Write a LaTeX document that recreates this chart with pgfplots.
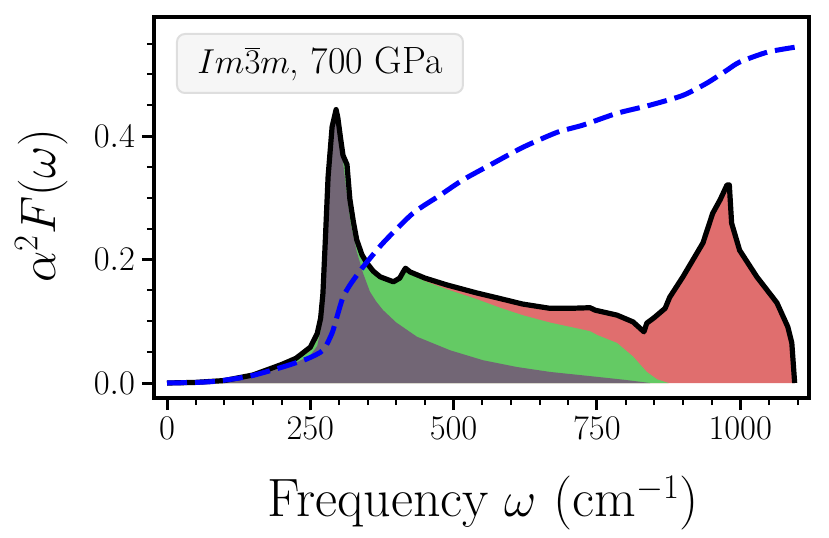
\documentclass[border=0pt]{standalone}
\usepackage{pgfplots}
\pgfplotsset{compat=1.18}
\definecolor{cpurple}{RGB}{114,102,117}
\definecolor{cgreen}{RGB}{100,202,100}
\definecolor{cred}{RGB}{224,110,110}
\definecolor{lgfill}{RGB}{246,246,246}
\definecolor{lgdraw}{RGB}{222,222,222}
\begin{document}
\begin{tikzpicture}
\begin{axis}[
  scale only axis,
  width=327.5pt, height=190.5pt,
  xmin=-22.7, xmax=1120,
  ymin=-0.0243, ymax=0.593,
  axis line style={line width=1.6pt},
  tick align=outside,
  xtick pos=bottom, ytick pos=left,
  xtick={0,250,500,750,1000},
  ytick={0,0.2,0.4},
  minor xtick={50,100,150,200,300,350,400,450,550,600,650,700,800,850,900,950,1050,1100},
  minor ytick={0.05,0.1,0.15,0.25,0.3,0.35,0.45,0.5,0.55},
  major tick length=6pt, minor tick length=3.5pt,
  every major tick/.append style={line width=1.5pt, black},
  every minor tick/.append style={line width=1pt, black},
  xticklabel style={/pgf/number format/1000 sep={}},
  yticklabel style={/pgf/number format/fixed, /pgf/number format/fixed zerofill, /pgf/number format/precision=1},
  ticklabel style={font=\fontsize{18}{21}\selectfont},
  xlabel={Frequency $\omega$ (cm$^{-1}$)},
  ylabel={$\alpha^2F(\omega)$},
  label style={font=\fontsize{27}{32}\selectfont},
  xlabel style={at={(axis description cs:0.503,-0.312)}, anchor=base},
  ylabel style={at={(axis description cs:-0.172,0.504)}, anchor=center},
  clip=true,
]
% total (red area)
\addplot[fill=cred, draw=none] coordinates {
(0,0) (50,0.001) (100,0.004) (150,0.013) (200,0.030) (225,0.040) (250,0.058) (262,0.080) (268,0.105) (272,0.145) (276,0.227) (281,0.334) (288,0.415) (295,0.443) (298,0.430) (303,0.395) (307,0.369) (314,0.354) (319,0.298) (325,0.262) (331,0.232) (340,0.208) (349,0.194) (360,0.181) (372,0.172) (395,0.164) (406,0.170) (412,0.180) (416,0.186) (424,0.180) (450,0.170) (488,0.159) (540,0.146) (576,0.138) (620,0.128) (668,0.121) (703,0.121) (738,0.122) (747,0.118) (785,0.110) (813,0.099) (832,0.083) (837,0.097) (850,0.106) (869,0.121) (877,0.139) (900,0.172) (935,0.227) (952,0.275) (965,0.297) (977,0.321) (981,0.321) (985,0.259) (999,0.215) (1029,0.172) (1064,0.130) (1083,0.091) (1090,0.065) (1095,0.0)
} \closedcycle;
% green
\addplot[fill=cgreen, draw=none] coordinates {
(0,0) (50,0.001) (100,0.004) (150,0.012) (200,0.028) (225,0.037) (250,0.052) (262,0.070) (268,0.095) (272,0.135) (276,0.215) (281,0.320) (288,0.405) (295,0.443) (298,0.430) (303,0.395) (307,0.369) (314,0.354) (319,0.298) (325,0.262) (331,0.232) (340,0.208) (349,0.194) (360,0.181) (372,0.172) (395,0.164) (406,0.170) (412,0.180) (416,0.184) (424,0.177) (450,0.165) (488,0.152) (540,0.136) (581,0.122) (620,0.110) (668,0.098) (703,0.091) (738,0.084) (750,0.078) (785,0.065) (813,0.043) (837,0.018) (855,0.006) (875,0.0)
} \closedcycle;
% purple
\addplot[fill=cpurple, draw=none] coordinates {
(0,0) (50,0.001) (100,0.0035) (150,0.011) (200,0.025) (225,0.033) (250,0.045) (262,0.060) (268,0.085) (272,0.125) (276,0.205) (281,0.315) (288,0.405) (295,0.440) (298,0.426) (305,0.375) (312,0.320) (320,0.260) (331,0.213) (342,0.178) (354,0.148) (365,0.132) (377,0.118) (400,0.098) (436,0.075) (494,0.053) (551,0.037) (610,0.026) (668,0.018) (750,0.010) (800,0.005) (843,0.0)
} \closedcycle;
% total line
\addplot[black, line width=2.6pt, line join=round] coordinates {
(0,0) (50,0.001) (100,0.004) (150,0.013) (200,0.030) (225,0.040) (250,0.058) (262,0.080) (268,0.105) (272,0.145) (276,0.227) (281,0.334) (288,0.415) (295,0.443) (298,0.430) (303,0.395) (307,0.369) (314,0.354) (319,0.298) (325,0.262) (331,0.232) (340,0.208) (349,0.194) (360,0.181) (372,0.172) (395,0.164) (406,0.170) (412,0.180) (416,0.186) (424,0.180) (450,0.170) (488,0.159) (540,0.146) (576,0.138) (620,0.128) (668,0.121) (703,0.121) (738,0.122) (747,0.118) (785,0.110) (813,0.099) (832,0.083) (837,0.097) (850,0.106) (869,0.121) (877,0.139) (900,0.172) (935,0.227) (952,0.275) (965,0.297) (977,0.321) (981,0.321) (985,0.259) (999,0.215) (1029,0.172) (1064,0.130) (1083,0.091) (1090,0.065) (1095,0.0)
};
% cumulative lambda
\addplot[blue, line width=2.5pt, dash pattern=on 10pt off 4pt, smooth, tension=0.4] coordinates {
(0,0) (50,0.001) (87,0.003) (144,0.011) (202,0.026) (244,0.039) (272,0.053) (288,0.081) (298,0.112) (307,0.139) (320,0.160) (342,0.188) (377,0.227) (429,0.275) (476,0.304) (516,0.329) (569,0.356) (621,0.382) (680,0.406) (726,0.418) (785,0.437) (842,0.450) (900,0.466) (942,0.486) (977,0.507) (999,0.520) (1047,0.536) (1095,0.544)
};
\node[draw=lgdraw, line width=1pt, fill=lgfill, rounded corners=4pt, minimum width=143pt, minimum height=29.5pt, inner sep=0pt, anchor=center, font=\fontsize{19}{23}\selectfont] at (axis description cs:0.2534,0.878) {$Im\overline{3}m$, 700 GPa};
\end{axis}
\pgfresetboundingbox
\path[use as bounding box] (-77pt,-69.5pt) rectangle (337.5pt,199pt);
\end{tikzpicture}
\end{document}
